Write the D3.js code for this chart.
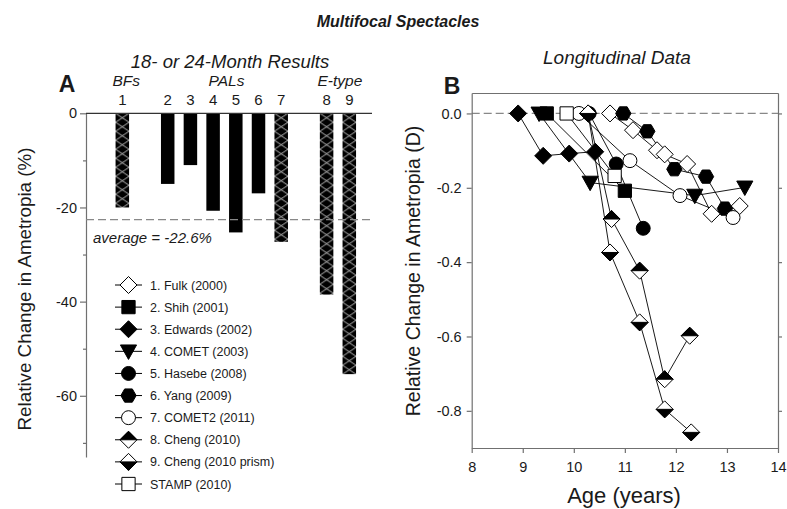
<!DOCTYPE html>
<html>
<head>
<meta charset="utf-8">
<script src="https://cdn.jsdelivr.net/npm/d3@7"></script>
<style>
  body { margin: 0; background: #fff; }
  svg { font-family: "Liberation Sans", Arial, sans-serif; }
</style>
</head>
<body>
<svg id="chart" width="787" height="509"></svg>
<script>
// panel A data
var studyIds = ["1", "2", "3", "4", "5", "6", "7", "8", "9"];
var studyGroup = [0, 1, 1, 1, 1, 1, 1, 2, 2];
var groupNames = ["BFs", "PALs", "E-type"];
var changePct = [-20.0, -15.0, -11.0, -20.7, -25.3, -17.0, -27.3, -38.5, -55.4];
var hatched = [true, false, false, false, false, false, true, true, true];
var averagePct = -22.6;
var yTicksA = [0, -20, -40, -60];
var yMinorA = [-10, -30, -50, -70];

// panel B data
var seriesNames = ["1. Fulk (2000)", "2. Shih (2001)", "3. Edwards (2002)", "4. COMET (2003)",
  "5. Hasebe (2008)", "6. Yang (2009)", "7. COMET2 (2011)", "8. Cheng (2010)",
  "9. Cheng (2010 prism)", "STAMP (2010)"];
var seriesShapes = ["diamondOpen", "square", "diamond", "triangleDown", "circle",
  "hexagon", "circleOpen", "diamondTop", "diamondBottom", "squareOpen"];

var fulkAge = [10.71, 11.16, 11.63, 11.78, 12.22, 12.70, 13.25];
var fulkD = [0, -0.045, -0.099, -0.11, -0.136, -0.27, -0.249];
var shihAge = [9.47, 11.0];
var shihD = [0, -0.208];
var edwardsAge = [8.91, 9.40, 9.91, 10.42];
var edwardsD = [0, -0.114, -0.108, -0.103];
var cometAge = [9.32, 10.32, 12.37, 13.35];
var cometD = [0, -0.186, -0.221, -0.199];
var hasebeAge = [10.3, 10.83, 11.36];
var hasebeD = [0, -0.136, -0.309];
var yangAge = [10.97, 11.44, 11.97, 12.59, 12.96];
var yangD = [0, -0.048, -0.15, -0.17, -0.256];
var comet2Age = [10.1, 11.1, 12.08, 13.12];
var comet2D = [0, -0.127, -0.221, -0.28];
var cheng8Age = [10.28, 10.74, 11.29, 11.78, 12.27];
var cheng8D = [0, -0.284, -0.423, -0.715, -0.598];
var cheng9Age = [10.28, 10.71, 11.29, 11.78, 12.3];
var cheng9D = [0, -0.374, -0.562, -0.796, -0.858];
var stampAge = [9.86, 10.8];
var stampD = [0, -0.168];

var xTicksB = [8, 9, 10, 11, 12, 13, 14];
var yTicksB = [0, -0.2, -0.4, -0.6, -0.8];

var seriesAges = [fulkAge, shihAge, edwardsAge, cometAge, hasebeAge, yangAge, comet2Age, cheng8Age, cheng9Age, stampAge];
var seriesVals = [fulkD, shihD, edwardsD, cometD, hasebeD, yangD, comet2D, cheng8D, cheng9D, stampD];

var svg = d3.select("#chart");
var axisGray = "#707070";
var textCol = "#1a1a1a";

svg.append("text").attr("x", 398).attr("y", 27).attr("text-anchor", "middle")
  .style("font-size", "16px").style("font-weight", "bold").style("font-style", "italic")
  .attr("fill", textCol).text("Multifocal Spectacles");

// ---------- panel A ----------
var slot = studyIds.map(function(d, i) { return i + studyGroup[i]; });
var xA = d3.scaleLinear().domain([-1.6, 11]).range([86, 372]);
var yA = d3.scaleLinear().domain([0, -73]).range([113.3, 457]);
var barW = 13.5;

var gA = svg.append("g");

gA.append("text").attr("x", 230).attr("y", 68).attr("text-anchor", "middle")
  .style("font-size", "18.5px").style("font-style", "italic").attr("fill", textCol)
  .text("18- or 24-Month Results");
gA.append("text").attr("x", 67).attr("y", 92).attr("text-anchor", "middle")
  .style("font-size", "23px").style("font-weight", "bold").attr("fill", textCol).text("A");

var defs = svg.append("defs");
studyIds.forEach(function(id, i) {
  if (!hatched[i]) return;
  var p = defs.append("pattern").attr("id", "hatch" + i)
    .attr("patternUnits", "userSpaceOnUse")
    .attr("x", xA(slot[i]) - barW / 2).attr("y", yA(0))
    .attr("width", barW).attr("height", 9);
  p.append("rect").attr("width", barW).attr("height", 9).attr("fill", "#000");
  p.append("path").attr("d", "M0,0L" + barW + ",9M" + barW + ",0L0,9")
    .attr("stroke", "#c8c8c8").attr("stroke-width", 0.9).attr("fill", "none");
});

gA.selectAll("rect.bar").data(changePct).enter().append("rect")
  .attr("class", "bar")
  .attr("x", function(d, i) { return xA(slot[i]) - barW / 2; })
  .attr("y", yA(0))
  .attr("width", barW)
  .attr("height", function(d) { return yA(d) - yA(0); })
  .attr("fill", function(d, i) { return hatched[i] ? "url(#hatch" + i + ")" : "#000"; });

// number labels and group labels
gA.selectAll("text.num").data(studyIds).enter().append("text")
  .attr("class", "num")
  .attr("x", function(d, i) { return xA(slot[i]); })
  .attr("y", 105).attr("text-anchor", "middle")
  .style("font-size", "15px").attr("fill", textCol).text(function(d) { return d; });

groupNames.forEach(function(g, gi) {
  var idx = slot.filter(function(s, i) { return studyGroup[i] === gi; });
  var cx = (xA(d3.min(idx)) + xA(d3.max(idx))) / 2;
  gA.append("text").attr("x", cx + (gi === 0 ? 4 : 2)).attr("y", 86).attr("text-anchor", "middle")
    .style("font-size", "15.5px").style("font-style", "italic").attr("fill", textCol).text(g);
});

// axis
var axA = gA.append("g").attr("transform", "translate(86,0)")
  .call(d3.axisLeft(yA).tickValues(yTicksA).tickSize(6).tickSizeOuter(0)
    .tickFormat(function(d) { return d3.format("d")(d).replace("\u2212", "-"); }));
axA.append("g").call(d3.axisLeft(yA).tickValues(yMinorA).tickSize(3).tickFormat(""))
  .select(".domain").remove();
axA.selectAll("path,line").attr("stroke", axisGray).attr("stroke-width", 1.2);
axA.selectAll("text").style("font-size", "14.5px").attr("fill", textCol)
  .style("font-family", "'Liberation Sans', Arial, sans-serif");

gA.append("line").attr("x1", 86).attr("x2", 372).attr("y1", yA(0)).attr("y2", yA(0))
  .attr("stroke", "#333").attr("stroke-width", 1.3);
gA.append("line").attr("x1", 86).attr("x2", 372).attr("y1", yA(averagePct)).attr("y2", yA(averagePct))
  .attr("stroke", "#888").attr("stroke-width", 1.3).attr("stroke-dasharray", "8,4");
gA.append("text").attr("x", 93).attr("y", 243)
  .style("font-size", "15px").style("font-style", "italic").attr("fill", textCol)
  .text("average = " + averagePct + "%");

gA.append("text").attr("transform", "translate(31,289) rotate(-90)").attr("text-anchor", "middle")
  .style("font-size", "18.8px").attr("fill", textCol).text("Relative Change in Ametropia (%)");

// ---------- symbols ----------
function symbolPath(shape, r) {
  var p = d3.path();
  if (shape.indexOf("diamond") === 0) {
    p.moveTo(0, -r); p.lineTo(r, 0); p.lineTo(0, r); p.lineTo(-r, 0); p.closePath();
  } else if (shape.indexOf("square") === 0) {
    var s = r * 0.78;
    p.rect(-s, -s, 2 * s, 2 * s);
  } else if (shape === "triangleDown") {
    p.moveTo(-r * 0.95, -r * 0.75); p.lineTo(r * 0.95, -r * 0.75); p.lineTo(0, r * 0.95); p.closePath();
  } else if (shape === "hexagon") {
    var h = r * 0.9;
    for (var k = 0; k < 6; k++) {
      var a = k * Math.PI / 3;
      if (k === 0) p.moveTo(h * Math.cos(a), h * Math.sin(a));
      else p.lineTo(h * Math.cos(a), h * Math.sin(a));
    }
    p.closePath();
  } else {
    p.arc(0, 0, r * 0.82, 0, 2 * Math.PI);
  }
  return p.toString();
}
function halfPath(top, r) {
  var p = d3.path();
  p.moveTo(-r, 0); p.lineTo(0, top ? -r : r); p.lineTo(r, 0); p.closePath();
  return p.toString();
}
function drawSymbol(g, shape, x, y, r) {
  var open = /Open|Top|Bottom/.test(shape);
  var s = g.append("g").attr("transform", "translate(" + x + "," + y + ")");
  s.append("path").attr("d", symbolPath(shape, r))
    .attr("fill", open ? "#fff" : "#000").attr("stroke", "#000").attr("stroke-width", 1);
  if (shape === "diamondTop" || shape === "diamondBottom") {
    s.append("path").attr("d", halfPath(shape === "diamondTop", r))
      .attr("fill", "#000").attr("stroke", "#000").attr("stroke-width", 1);
  }
}

// legend
var legY = d3.scaleLinear().domain([0, 9]).range([285, 484]);
var gL = svg.append("g");
seriesNames.forEach(function(name, i) {
  var y = legY(i);
  gL.append("line").attr("x1", 115).attr("x2", 142).attr("y1", y).attr("y2", y)
    .attr("stroke", "#000").attr("stroke-width", 1);
  drawSymbol(gL, seriesShapes[i], 128.5, y, 8.5);
  gL.append("text").attr("x", 150).attr("y", y + 4.5)
    .style("font-size", "12.5px").attr("fill", textCol).text(name);
});

// ---------- panel B ----------
var xB = d3.scaleLinear().domain([8, 14]).range([471.7, 778]);
var yB = d3.scaleLinear().domain([-0.9, 0.055]).range([448, 93]);
var gB = svg.append("g");

gB.append("text").attr("x", 617).attr("y", 64).attr("text-anchor", "middle")
  .style("font-size", "19px").style("font-style", "italic").attr("fill", textCol)
  .text("Longitudinal Data");
gB.append("text").attr("x", 452).attr("y", 94).attr("text-anchor", "middle")
  .style("font-size", "23px").style("font-weight", "bold").attr("fill", textCol).text("B");

gB.append("line").attr("x1", xB(8)).attr("x2", xB(14)).attr("y1", yB(0)).attr("y2", yB(0))
  .attr("stroke", "#888").attr("stroke-width", 1.3).attr("stroke-dasharray", "8,4");

var fmtB = function(d) { return d.toFixed(1).replace("-0.0", "0.0"); };
var axL = gB.append("g").attr("transform", "translate(" + xB(8) + ",0)")
  .call(d3.axisLeft(yB).tickValues(yTicksB).tickSize(5).tickSizeOuter(0).tickFormat(fmtB));
var axR = gB.append("g").attr("transform", "translate(" + xB(14) + ",0)")
  .call(d3.axisRight(yB).tickValues(yTicksB).tickSize(4).tickSizeOuter(0).tickFormat(""));
var axBot = gB.append("g").attr("transform", "translate(0," + yB(-0.9) + ")")
  .call(d3.axisBottom(xB).tickValues(xTicksB).tickSize(5).tickSizeOuter(0).tickFormat(d3.format("d")));
var axTop = gB.append("g").attr("transform", "translate(0," + yB(0.055) + ")")
  .call(d3.axisTop(xB).tickValues([]).tickSizeOuter(0));
[axL, axR, axBot, axTop].forEach(function(a) {
  a.selectAll("path,line").attr("stroke", axisGray).attr("stroke-width", 1.2);
  a.selectAll("text").style("font-size", "14.5px").attr("fill", textCol)
    .style("font-family", "'Liberation Sans', Arial, sans-serif");
});
axL.selectAll("text").attr("dx", "-2");
axBot.selectAll("text").attr("dy", "1.1em");

var line = d3.line().x(function(d) { return xB(d[0]); }).y(function(d) { return yB(d[1]); });
var seriesPts = seriesAges.map(function(ages, s) {
  return ages.map(function(a, j) { return [a, seriesVals[s][j]]; });
});
gB.selectAll("path.series").data(seriesPts).enter().append("path")
  .attr("class", "series").attr("d", line)
  .attr("fill", "none").attr("stroke", "#000").attr("stroke-width", 0.9);

seriesPts.forEach(function(pts, s) {
  pts.forEach(function(pt) {
    drawSymbol(gB, seriesShapes[s], xB(pt[0]), yB(pt[1]), 8.5);
  });
});

gB.append("text").attr("transform", "translate(420,271) rotate(-90)").attr("text-anchor", "middle")
  .style("font-size", "19.5px").attr("fill", textCol).text("Relative Change in Ametropia (D)");
gB.append("text").attr("x", 624).attr("y", 503).attr("text-anchor", "middle")
  .style("font-size", "22px").attr("fill", textCol).text("Age (years)");
</script>
</body>
</html>
